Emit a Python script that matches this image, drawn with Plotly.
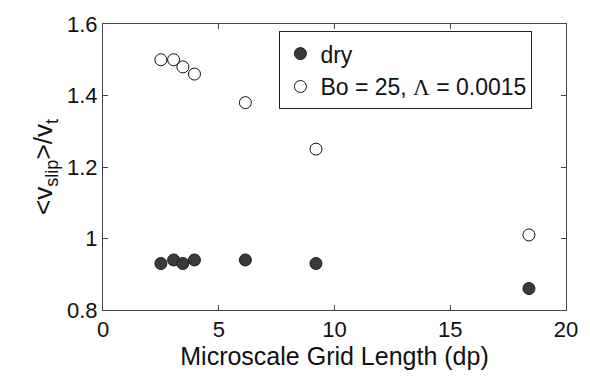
import plotly.graph_objects as go

grid_length = [2.5, 3.05, 3.45, 3.95, 6.15, 9.2, 18.4]
dry_vals = [0.93, 0.94, 0.93, 0.94, 0.94, 0.93, 0.86]
wet_vals = [1.50, 1.50, 1.48, 1.46, 1.38, 1.25, 1.01]
x_ticks = [0, 5, 10, 15, 20]
y_ticks = [0.8, 1.0, 1.2, 1.4, 1.6]
y_ticklabels = ["0.8", "1", "1.2", "1.4", "1.6"]

FONT = "Liberation Sans, Arial, Helvetica, sans-serif"

fig = go.Figure()
fig.add_trace(go.Scatter(
    x=grid_length, y=dry_vals, mode="markers", name="dry",
    marker=dict(symbol="circle", size=12, color="#3a3a3a",
                line=dict(color="#1a1a1a", width=1)),
))
fig.add_trace(go.Scatter(
    x=grid_length, y=wet_vals, mode="markers",
    name='Bo = 25, <span style="font-family:Liberation Serif, Times New Roman, serif">Λ</span> = 0.0015',
    marker=dict(symbol="circle-open", size=12, color="#111111",
                line=dict(color="#111111", width=1)),
))

axis_common = dict(
    showline=True, linecolor="#444444", linewidth=1, mirror="ticks",
    ticks="inside", ticklen=5, tickcolor="#444444", showgrid=False,
    zeroline=False, tickfont=dict(family=FONT, size=22, color="#111111"),
)

fig.update_layout(
    width=590, height=378,
    margin=dict(l=103, r=17, t=20, b=68),
    paper_bgcolor="white", plot_bgcolor="white",
    font=dict(family=FONT, size=22, color="#111111"),
    xaxis=dict(range=[0, 20], tickvals=x_ticks,
               title=dict(text="Microscale Grid Length (dp)", standoff=4,
                          font=dict(family=FONT, size=25)),
               **axis_common),
    yaxis=dict(range=[0.8, 1.6], tickvals=y_ticks, ticktext=y_ticklabels,
               title=dict(text="&lt;v<sub>slip</sub>&gt;/v<sub>t</sub>", standoff=6,
                          font=dict(family=FONT, size=26)),
               **axis_common),
    legend=dict(x=0.381, y=0.975, xanchor="left", yanchor="top",
                bordercolor="#222222", borderwidth=1, bgcolor="white",
                font=dict(family=FONT, size=23, color="#111111"),
                itemwidth=30, tracegroupgap=0),
    showlegend=True,
)

fig.write_html("out.html")
